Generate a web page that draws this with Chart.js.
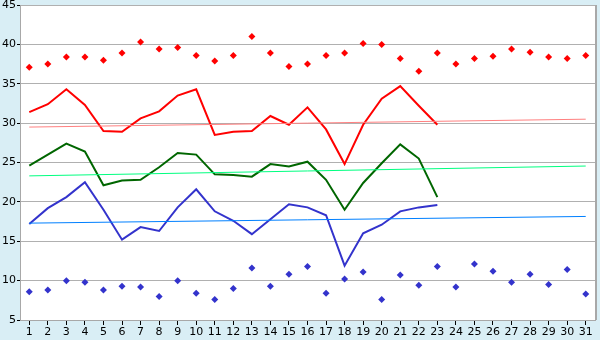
<!DOCTYPE html>
<html>
<head>
<meta charset="utf-8">
<script src="https://cdn.jsdelivr.net/npm/chart.js@4"></script>
<style>
	html, body { margin: 0; padding: 0; background: #d9eef5; }
	#wrap { width: 600px; height: 340px; }
</style>
</head>
<body>
<div id="wrap"><canvas id="chart" width="600" height="340"></canvas></div>
<script>
const days = Array.from({length: 31}, (_, i) => String(i + 1));

// daily extremes (markers)
const maxPoints = [37.1, 37.5, 38.4, 38.4, 38.0, 38.9, 40.3, 39.4, 39.6, 38.6,
	37.9, 38.6, 41.0, 38.9, 37.2, 37.5, 38.6, 38.9, 40.1, 40.0,
	38.2, 36.6, 38.9, 37.5, 38.2, 38.5, 39.4, 39.0, 38.4, 38.2, 38.6];
const minPoints = [8.6, 8.8, 10.0, 9.8, 8.8, 9.3, 9.2, 8.0, 10.0, 8.4,
	7.6, 9.0, 11.6, 9.3, 10.8, 11.8, 8.4, 10.2, 11.1, 7.6,
	10.7, 9.4, 11.8, 9.2, 12.1, 11.2, 9.8, 10.8, 9.5, 11.4, 8.3];

// current month lines (days 1-23)
const highLine = [31.4, 32.4, 34.3, 32.3, 29.0, 28.9, 30.6, 31.5, 33.5, 34.3,
	28.5, 28.9, 29.0, 30.9, 29.8, 32.0, 29.2, 24.8, 29.8, 33.1,
	34.7, 32.2, 29.8];
const meanLine = [24.6, 26.0, 27.4, 26.4, 22.1, 22.7, 22.8, 24.4, 26.2, 26.0,
	23.5, 23.4, 23.2, 24.8, 24.5, 25.1, 22.8, 19.0, 22.4, 24.9,
	27.3, 25.5, 20.6];
const lowLine = [17.2, 19.2, 20.6, 22.5, 19.0, 15.2, 16.8, 16.3, 19.3, 21.6,
	18.8, 17.6, 15.9, 17.8, 19.7, 19.3, 18.3, 11.9, 16.0, 17.1,
	18.8, 19.3, 19.6];

// trend lines: [day 1, day 31]
const highTrend = [29.5, 30.5];
const meanTrend = [23.3, 24.55];
const lowTrend = [17.3, 18.15];

const yTicks = [5, 10, 15, 20, 25, 30, 35, 40, 45];

const trendData = ends => days.map((d, i) => i === 0 ? ends[0] : (i === days.length - 1 ? ends[1] : null));

const lineSet = (data, color, width) => ({
	type: 'line',
	data,
	borderColor: color,
	borderWidth: width,
	pointRadius: 0,
	tension: 0,
	spanGaps: true,
	fill: false
});

const markerSet = (data, color) => ({
	type: 'line',
	data,
	showLine: false,
	pointStyle: 'rectRot',
	pointRadius: 3.5,
	pointBackgroundColor: color,
	pointBorderColor: color,
	pointBorderWidth: 0
});

const plotBox = {
	id: 'plotBox',
	beforeDraw: chart => {
		const {ctx, chartArea: a} = chart;
		ctx.save();
		ctx.fillStyle = '#d9eef5';
		ctx.fillRect(0, 0, chart.width, chart.height);
		ctx.fillStyle = '#ffffff';
		ctx.fillRect(a.left, a.top, a.right - a.left, a.bottom - a.top);
		ctx.restore();
	},
	afterDraw: chart => {
		const {ctx, chartArea: a} = chart;
		ctx.save();
		ctx.strokeStyle = '#a8a8a8';
		ctx.lineWidth = 2;
		ctx.beginPath();
		ctx.moveTo(a.right + 1, a.top);
		ctx.lineTo(a.right + 1, a.bottom);
		ctx.stroke();
		ctx.restore();
	}
};

new Chart(document.getElementById('chart'), {
	data: {
		labels: days,
		datasets: [
			lineSet(trendData(highTrend), '#ff8080', 1),
			lineSet(trendData(meanTrend), '#00ff80', 1),
			lineSet(trendData(lowTrend), '#0080ff', 1),
			lineSet(highLine, '#ff0000', 2),
			lineSet(meanLine, '#006600', 2),
			lineSet(lowLine, '#3333cc', 2),
			markerSet(maxPoints, '#ff0000'),
			markerSet(minPoints, '#3333cc')
		]
	},
	options: {
		responsive: false,
		animation: false,
		layout: { padding: { top: 5, right: 5, left: 0, bottom: 0 } },
		plugins: {
			legend: { display: false },
			tooltip: { enabled: false }
		},
		scales: {
			x: {
				type: 'category',
				offset: true,
				grid: {
					offset: false,
					drawOnChartArea: false,
					tickLength: 5,
					color: '#000000'
				},
				border: { color: '#a8a8a8' },
				ticks: {
					color: '#000000',
					padding: 1,
					maxRotation: 0,
					autoSkip: false,
					font: { family: 'DejaVu Sans', size: 11 }
				},
				afterFit: scale => { scale.height = 20; }
			},
			y: {
				min: 5,
				max: 45,
				afterBuildTicks: scale => { scale.ticks = yTicks.map(v => ({value: v})); },
				grid: {
					color: '#b0b0b0',
					tickLength: 3,
					tickColor: '#000000'
				},
				border: { color: '#a8a8a8' },
				ticks: {
					color: '#000000',
					padding: 1,
					font: { family: 'DejaVu Sans', size: 11 }
				},
				afterFit: scale => {
					scale.width = 20;
					scale.paddingTop = 0;
					scale.paddingBottom = 0;
				}
			}
		}
	},
	plugins: [plotBox]
});
</script>
</body>
</html>
